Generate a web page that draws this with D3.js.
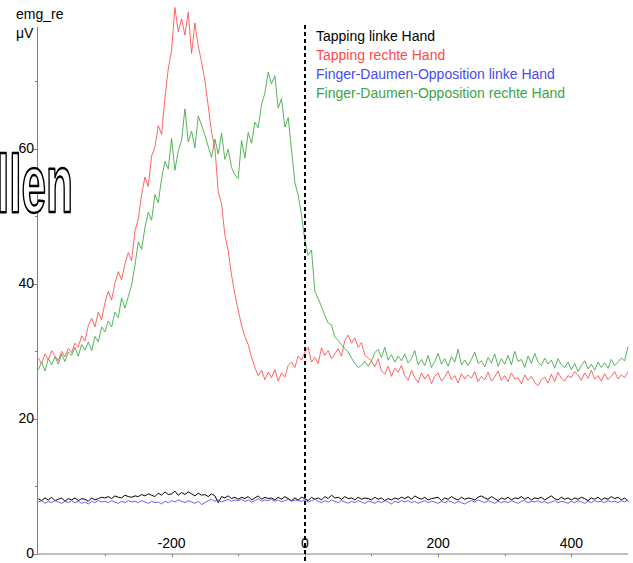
<!DOCTYPE html>
<html>
<head>
<meta charset="utf-8">
<script src="https://cdn.jsdelivr.net/npm/d3@7"></script>
<style>
  html, body { margin: 0; padding: 0; background: #fff; }
  svg { display: block; }
  text { font-family: "Liberation Sans", Arial, sans-serif; }
</style>
</head>
<body>
<svg id="chart" width="633" height="563"></svg>
<script>
// ---------- DATA ----------
const seriesNames = [
  "Tapping linke Hand",
  "Tapping rechte Hand",
  "Finger-Daumen-Opposition linke Hand",
  "Finger-Daumen-Opposition rechte Hand"
];
const seriesColors = ["#000000", "#ff4a4a", "#4a4aee", "#3aa640"];

// time of first sample (ms) and sample spacing (ms)
const tStart = -400;
const tStep = 5;

const tappingLinks = [
  8.2, 7.9, 8.3, 8.0, 8.4, 7.9, 8.1, 8.3, 7.8, 8.2,
  8.0, 8.3, 7.9, 8.2, 8.1, 7.8, 8.3, 8.0, 8.2, 8.4,
  8.3, 8.5, 8.2, 8.6, 8.4, 8.3, 8.7, 8.5, 8.4, 8.6,
  8.5, 8.8, 8.6, 8.9, 8.7, 8.5, 9.0, 8.7, 9.2, 8.8,
  8.9, 9.3, 8.7, 9.1, 8.8, 9.2, 8.9, 8.6, 9.0, 8.7,
  8.8, 8.5, 8.9, 8.6, 7.6, 8.5, 8.3, 8.6, 8.2, 8.4,
  8.1, 8.4, 8.2, 8.5, 8.0, 8.3, 8.6, 8.1, 8.4, 8.2,
  8.3, 8.0, 8.4, 8.1, 8.5, 8.2, 7.9, 8.3, 8.0, 8.4,
  8.2, 7.9, 8.4, 8.1, 8.3, 8.0, 8.5, 8.2, 8.7, 8.3,
  8.4, 8.1, 8.5, 8.2, 8.3, 8.0, 8.4, 8.1, 8.3, 8.2,
  8.0, 8.4, 8.1, 8.3, 7.9, 8.2, 8.0, 8.3, 8.1, 8.4,
  8.2, 8.5, 8.1, 8.6, 8.3, 8.1, 8.4, 8.0, 8.2, 8.3,
  8.4, 7.9, 8.3, 8.1, 8.5, 8.2, 8.0, 8.4, 8.1, 8.3,
  8.2, 8.0, 8.4, 8.6, 8.3, 8.1, 8.5, 8.2, 7.9, 8.3,
  8.1, 8.4, 8.0, 8.3, 8.2, 8.5, 8.1, 8.4, 8.0, 8.3,
  8.2, 8.4, 8.0, 8.3, 8.6, 8.2, 8.0, 8.4, 8.1, 8.3,
  8.0, 8.3, 8.1, 8.4, 8.2, 7.9, 8.3, 8.1, 8.4, 8.0,
  8.3, 8.1, 8.5, 8.2, 8.4, 8.0, 8.3, 7.8
];

const tappingRechts = [
  29.0, 28.2, 29.6, 28.8, 30.1, 29.3, 28.6, 30.0, 29.2, 30.4,
  29.8, 31.2, 30.6, 32.3, 31.5, 33.8, 34.9, 33.6, 35.8, 34.7,
  37.2, 38.9, 37.6, 40.1, 41.8, 40.6, 42.9, 44.6, 43.4, 47.8,
  49.6, 53.2, 55.8, 54.4, 58.9, 60.2, 63.4, 62.1, 67.5, 71.8,
  74.6, 80.9, 77.3, 79.2, 76.8, 80.2, 74.1, 78.6, 75.2, 72.8,
  70.1, 66.3, 62.4, 60.1, 53.6, 51.8, 47.2, 44.9, 41.3, 38.4,
  36.1, 33.8, 32.2, 31.0, 29.1, 27.6, 26.4, 27.2, 25.8, 26.9,
  26.1, 27.3, 25.6, 26.8, 26.2, 27.9, 28.4, 27.6, 29.3, 28.7,
  29.9, 30.6, 28.4, 29.1, 28.2, 30.5, 29.4, 30.1, 28.9, 29.6,
  30.4, 29.3, 31.6, 32.4, 31.2, 32.0, 30.6, 31.3, 29.4, 29.0,
  28.6, 27.7, 28.9, 27.1, 26.6, 27.8, 26.3, 27.5, 26.9, 27.9,
  26.4, 25.7, 27.2, 26.1, 25.4, 26.8, 25.9, 26.6, 25.2, 26.3,
  26.8, 25.6, 26.2, 27.1, 25.8, 26.4, 25.3, 26.7, 25.9, 26.5,
  26.0, 27.0, 25.5, 26.3, 25.8, 26.9, 25.6, 26.2, 27.1, 25.7,
  26.4, 25.5, 26.8, 25.9, 26.1, 25.2, 26.5, 25.7, 26.3, 25.4,
  24.9, 25.8, 26.2, 25.3, 26.6, 25.5, 26.9, 26.0, 25.6, 26.4,
  26.1, 27.0, 26.5, 25.7, 26.8, 26.0, 27.2, 25.9, 26.4, 25.6,
  26.7, 25.8, 26.3, 27.0, 25.9, 26.5, 26.1, 27.0
];

const fdoLinks = [
  7.7, 7.9, 7.5, 7.8, 7.6, 7.9, 7.7, 7.5, 7.8, 7.6,
  7.9, 7.6, 7.8, 7.5, 7.7, 7.4, 7.8, 7.6, 7.9, 7.7,
  7.8, 7.6, 7.9, 7.7, 7.5, 7.8, 7.6, 7.9, 7.7, 7.8,
  7.6, 7.9, 7.7, 7.5, 7.8, 7.6, 7.7, 7.4, 7.8, 7.6,
  7.9, 7.7, 8.0, 7.8, 7.6, 7.9, 7.7, 7.5, 7.8, 7.3,
  7.6, 7.9, 8.1, 7.8, 8.0, 7.7, 7.9, 8.1, 7.8, 8.0,
  7.9, 8.1, 7.8, 8.0, 7.7, 7.9, 8.2, 7.8, 8.0, 7.9,
  8.1, 7.8, 8.0, 7.7, 7.9, 8.1, 7.8, 8.0, 7.9, 7.8,
  8.0, 7.7, 7.9, 8.1, 7.8, 7.6, 7.9, 7.7, 8.0, 7.8,
  7.6, 7.9, 7.7, 7.5, 7.8, 7.6, 7.9, 7.7, 7.5, 7.8,
  7.7, 7.5, 7.8, 7.6, 7.9, 7.7, 7.4, 7.8, 7.6, 7.9,
  7.7, 7.9, 7.6, 7.8, 7.5, 7.7, 7.9, 7.6, 7.8, 7.7,
  7.5, 7.8, 7.6, 7.9, 7.7, 7.5, 7.8, 7.6, 7.4, 7.7,
  7.9, 7.7, 8.0, 7.8, 7.6, 7.9, 7.7, 7.5, 7.8, 7.6,
  7.8, 7.6, 7.9, 7.7, 7.5, 7.8, 7.9, 7.6, 7.8, 7.7,
  7.9, 7.6, 7.8, 7.5, 7.7, 7.9, 7.6, 7.8, 7.7, 7.5,
  7.8, 7.6, 7.9, 7.7, 7.5, 7.8, 7.6, 7.9, 7.7, 7.8,
  7.6, 7.9, 7.7, 7.8, 7.6, 7.9, 7.7, 8.0
];

const fdoRechts = [
  27.3, 28.4, 27.1, 28.9, 28.0, 29.2, 28.1, 29.6, 28.5, 29.9,
  29.4, 30.6, 29.3, 31.0, 30.2, 31.4, 30.1, 32.2, 31.4, 33.6,
  32.9, 34.5, 33.6, 35.8, 35.0, 37.9, 36.4, 38.1, 39.8, 42.7,
  46.2, 45.1, 48.3, 50.6, 49.4, 53.2, 52.0, 55.6, 58.1, 57.0,
  61.5, 56.8, 59.7, 61.2, 65.9, 61.0, 62.6, 60.1, 64.8, 63.5,
  62.0, 60.3, 58.7, 61.4, 59.2, 62.3, 58.4, 59.9, 57.2, 56.1,
  55.6, 61.2, 58.6, 62.4, 60.8, 63.9, 63.1, 66.5, 68.2, 71.3,
  69.6, 70.8, 66.0, 67.4, 63.2, 64.6, 59.8, 55.0, 53.1, 50.2,
  46.4, 44.2, 45.0, 38.9, 37.8, 36.6, 35.3, 34.2, 33.9, 32.1,
  31.6, 31.0, 30.4, 29.9, 29.0, 28.2, 27.6, 27.9, 28.5, 27.8,
  28.6, 29.8, 30.3, 29.1, 30.6, 28.7, 29.5, 28.4, 29.3, 28.6,
  29.6, 28.3, 28.9, 30.1, 28.0, 28.8, 27.9, 29.4, 27.6, 28.5,
  29.7, 28.1, 28.9, 27.8, 29.2, 28.4, 30.3, 28.0, 28.7, 27.9,
  28.8, 29.9, 28.2, 28.6, 27.7, 29.1, 28.3, 29.6, 27.8, 28.9,
  28.1, 29.4, 28.0, 30.0, 28.5, 28.8, 27.6, 29.3, 28.2, 29.7,
  28.4, 27.9, 29.0, 28.1, 28.7, 27.5, 28.9, 28.0, 27.6, 28.4,
  27.3, 28.2, 27.0, 27.9, 28.6, 27.4, 28.1, 27.2, 28.4, 27.6,
  28.3, 27.5, 28.8, 27.9, 28.4, 29.0, 28.6, 30.7
];

const xTickValues = [-200, 0, 200, 400];
const xMinorTicks = [-300, -100, 100, 300];
const yTickValues = [0, 20, 40, 60];
const yMinorTicks = [10, 30, 50, 70];
const yTitle = ["emg_re", "\u03bcV"];
const overlayText = "llen";

// ---------- CHART ----------
const svg = d3.select("#chart");
const x = d3.scaleLinear().domain([-402, 485]).range([37, 628]);
const y = d3.scaleLinear().domain([0, 82]).range([554, 0]);

const axisColor = "#808080";

// x axis
const xAxisG = svg.append("g").attr("transform", `translate(0,${y(0)})`);
xAxisG.append("line").attr("x1", x.range()[0]).attr("x2", x.range()[1])
  .attr("stroke", axisColor).attr("stroke-width", 1);
xAxisG.selectAll(".xmaj").data(xTickValues).join("line")
  .attr("x1", d => Math.round(x(d)) + 0.5).attr("x2", d => Math.round(x(d)) + 0.5)
  .attr("y1", 0).attr("y2", 3).attr("stroke", axisColor);
xAxisG.selectAll(".xmin").data(xMinorTicks).join("line")
  .attr("x1", d => Math.round(x(d)) + 0.5).attr("x2", d => Math.round(x(d)) + 0.5)
  .attr("y1", 0).attr("y2", 2).attr("stroke", axisColor);
xAxisG.selectAll("text").data(xTickValues).join("text")
  .attr("x", d => x(d)).attr("y", -6)
  .attr("text-anchor", "middle").attr("font-size", 14).attr("fill", "#000")
  .text(d => d);

// y axis
const yAxisG = svg.append("g").attr("transform", `translate(${x.range()[0]},0)`);
yAxisG.append("line").attr("x1", 0.5).attr("x2", 0.5).attr("y1", 27).attr("y2", y(0))
  .attr("stroke", axisColor);
yAxisG.selectAll(".ymaj").data(yTickValues).join("line")
  .attr("x1", -4).attr("x2", 0.5)
  .attr("y1", d => Math.round(y(d)) + 0.5).attr("y2", d => Math.round(y(d)) + 0.5)
  .attr("stroke", axisColor);
yAxisG.selectAll(".ymin").data(yMinorTicks).join("line")
  .attr("x1", -2).attr("x2", 0.5)
  .attr("y1", d => Math.round(y(d)) + 0.5).attr("y2", d => Math.round(y(d)) + 0.5)
  .attr("stroke", axisColor);
yAxisG.selectAll("text").data(yTickValues).join("text")
  .attr("x", -3).attr("y", d => y(d) - 1)
  .attr("dominant-baseline", "central")
  .attr("text-anchor", "end").attr("font-size", 14).attr("fill", "#000")
  .text(d => d);

// y title
svg.append("text").attr("x", 16).attr("y", 19).attr("font-size", 14).text(yTitle[0]);
svg.append("text").attr("x", 16).attr("y", 38).attr("font-size", 14).text(yTitle[1]);

// overlay big outlined text
svg.append("text")
  .attr("x", -3).attr("y", 212)
  .attr("font-family", "'Liberation Sans Narrow', 'Liberation Sans', Arial, sans-serif")
  .attr("font-weight", "bold")
  .attr("font-size", 82)
  .attr("textLength", 76).attr("lengthAdjust", "spacingAndGlyphs")
  .attr("fill", "#fff").attr("stroke", "#000").attr("stroke-width", 2.5)
  .attr("stroke-linejoin", "round")
  .text(overlayText);

// series lines
const seriesData = [tappingLinks, tappingRechts, fdoLinks, fdoRechts];
const line = d3.line()
  .x((d, i) => x(tStart + i * tStep))
  .y(d => y(d));

svg.append("g").selectAll("path").data(seriesData).join("path")
  .attr("d", d => line(d))
  .attr("fill", "none")
  .attr("stroke", (d, i) => seriesColors[i])
  .attr("stroke-width", 1)
  .attr("stroke-opacity", (d, i) => i === 0 ? 1 : 0.85)
  .attr("stroke-linejoin", "round");

// vertical dashed line at t = 0
svg.append("line")
  .attr("x1", Math.round(x(0))).attr("x2", Math.round(x(0)))
  .attr("y1", 25).attr("y2", 563)
  .attr("stroke", "#000").attr("stroke-width", 2)
  .attr("stroke-dasharray", "4,3");

// legend
const legend = svg.append("g");
legend.selectAll("text").data(seriesNames).join("text")
  .attr("x", 316).attr("y", (d, i) => 41 + i * 19)
  .attr("font-size", 14)
  .attr("fill", (d, i) => seriesColors[i])
  .text(d => d);
</script>
</body>
</html>
